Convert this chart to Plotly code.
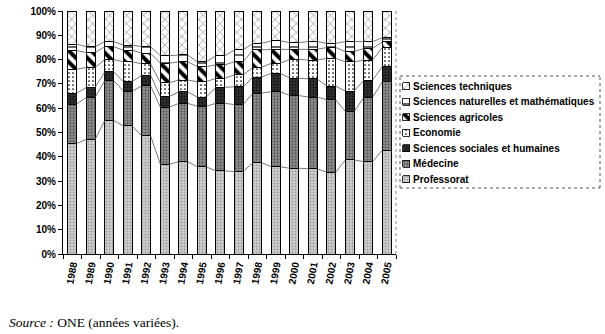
import plotly.graph_objects as go

years = ["1988", "1989", "1990", "1991", "1992", "1993", "1994", "1995", "1996",
         "1997", "1998", "1999", "2000", "2001", "2002", "2003", "2004", "2005"]

professorat = [45.5, 47.2, 55.0, 52.7, 48.6, 36.9, 38.0, 35.9, 34.2, 33.9, 37.6, 35.9, 35.3, 35.1, 33.6, 38.7, 38.0, 42.8]
medecine = [16.2, 17.3, 16.4, 14.3, 20.6, 23.5, 24.0, 24.9, 27.8, 27.6, 28.6, 30.9, 29.9, 29.5, 29.9, 19.9, 26.5, 28.1]
sciences_sociales = [4.4, 4.1, 3.6, 3.9, 4.4, 4.3, 4.8, 3.7, 6.6, 7.3, 6.6, 7.6, 7.1, 7.5, 5.6, 8.4, 7.1, 6.2]
economie = [9.9, 8.2, 5.1, 8.2, 4.6, 5.8, 4.8, 6.4, 3.7, 4.9, 4.0, 4.1, 7.8, 7.7, 11.4, 12.1, 8.2, 7.9]
sciences_agricoles = [7.7, 6.1, 5.2, 4.8, 4.4, 8.0, 7.5, 6.2, 5.5, 5.4, 7.2, 5.7, 4.1, 4.4, 4.5, 4.2, 4.8, 2.3]
sciences_naturelles = [2.7, 2.4, 2.1, 2.1, 2.7, 3.1, 2.8, 2.0, 3.7, 4.9, 2.7, 3.5, 2.8, 3.2, 1.7, 4.1, 2.8, 1.7]
sciences_techniques = [13.6, 14.7, 12.6, 14.0, 14.7, 18.4, 18.1, 20.9, 18.5, 16.0, 13.3, 12.3, 13.0, 12.6, 13.3, 12.6, 12.6, 11.0]

series = [
    ("Professorat", professorat, dict(bg="#d2d2d2", fg="#9a9a9a", shape=".", size=3, sol=0.35)),
    ("Médecine", medecine, dict(bg="#969696", fg="#5a5a5a", shape=".", size=3, sol=0.45)),
    ("Sciences sociales et humaines", sciences_sociales, dict(bg="#333333", fg="#111111", shape=".", size=3, sol=0.4)),
    ("Economie", economie, dict(bg="#ffffff", fg="#000000", shape=".", size=4, sol=0.15)),
    ("Sciences agricoles", sciences_agricoles, dict(bg="#ffffff", fg="#000000", shape="\\", size=8, sol=0.5)),
    ("Sciences naturelles et mathématiques", sciences_naturelles, dict(bg="#ffffff", fg="#000000", shape="-", size=8, sol=0.15)),
    ("Sciences techniques", sciences_techniques, dict(bg="#ffffff", fg="#555555", shape="x", size=6, sol=0.15)),
]

W, H = 605, 334
ML, MR, MT, MB = 63, 5, 11, 80
area_w = W - ML - MR
area_h = H - MT - MB
plot_right = 396
main_dom = (plot_right - ML) / area_w
n = len(years)

def px_x(p):
    return (p - ML) / area_w

def px_y(p):
    return (H - MB - p) / area_h

xs = list(range(n))
bar_w = 0.47

fig = go.Figure()

# connector lines between bars (series lines)
cum = [0.0] * n
for name, vals, st in series[:-1]:
    cum = [c + v for c, v in zip(cum, vals)]
    lx, ly = [], []
    for i in range(n - 1):
        lx += [xs[i] + bar_w / 2, xs[i + 1] - bar_w / 2, None]
        ly += [cum[i], cum[i + 1], None]
    fig.add_trace(go.Scatter(x=lx, y=ly, mode="lines", line=dict(color="#555555", width=0.8),
                             showlegend=False, hoverinfo="skip"))

def pat(st):
    return dict(shape=st["shape"], fgcolor=st["fg"], bgcolor=st["bg"],
                size=st["size"], solidity=st["sol"], fillmode="replace")

for name, vals, st in series:
    fig.add_trace(go.Bar(
        x=xs, y=vals, name=name, width=bar_w, showlegend=False,
        marker=dict(color=st["bg"], line=dict(color="#000000", width=1), pattern=pat(st)),
    ))

# boundary ticks axis
fig.add_trace(go.Scatter(x=[-0.5, n - 0.5], y=[0, 0], mode="markers", marker=dict(opacity=0),
                         xaxis="x2", showlegend=False, hoverinfo="skip"))

# custom legend: swatches on an auxiliary pixel-scaled axis
LX0, LX1, LY0, LY1 = 400, 600, 76, 188
row0, row_step, sw = 86, 15.5, 7
annotations = []
for k, (name, vals, st) in enumerate(reversed(series)):
    yc = row0 + k * row_step
    fig.add_trace(go.Bar(
        x=[sw], y=[yc], base=[LX0 + 2.5], orientation="h", width=sw,
        xaxis="x3", yaxis="y3", showlegend=False, hoverinfo="skip",
        marker=dict(color=st["bg"], line=dict(color="#000000", width=0.8), pattern=pat(st)),
    ))
    annotations.append(dict(xref="paper", yref="paper", x=px_x(LX0 + 10.5), y=px_y(yc),
                            xanchor="left", yanchor="middle",
                            showarrow=False, text=f"<b>{name}</b>",
                            font=dict(family="Liberation Sans, Arial, sans-serif", size=10, color="#000000")))

annotations.append(dict(xref="paper", yref="paper", x=px_x(7), y=px_y(322),
                        xanchor="left", yanchor="middle", showarrow=False, align="left",
                        text="<i>Source :</i> ONE (années variées).",
                        font=dict(family="Liberation Serif, Times New Roman, serif", size=13.5, color="#000000")))

tickfont = dict(family="Liberation Sans, Arial, sans-serif", size=10, color="#000000", weight="bold")

border = dict(color="#555555", width=1, dash="dot")
x0p, x1p, y0p, y1p = px_x(LX0), px_x(LX1), px_y(LY1), px_y(LY0)

fig.update_layout(
    width=W, height=H,
    margin=dict(l=ML, r=MR, t=MT, b=MB, autoexpand=False),
    paper_bgcolor="white", plot_bgcolor="white",
    barmode="stack",
    showlegend=False,
    xaxis=dict(domain=[0, main_dom], range=[-0.5, n - 0.5], tickmode="array", tickvals=xs, ticktext=years,
               tickangle=-80, tickfont=tickfont, ticks="", showgrid=False, zeroline=False,
               showline=True, linecolor="#000000", linewidth=1),
    xaxis2=dict(domain=[0, main_dom], range=[-0.5, n - 0.5], overlaying="x", side="bottom", tickmode="array",
                tickvals=[i - 0.5 for i in range(n + 1)], showticklabels=False,
                ticks="outside", ticklen=4, tickcolor="#000000", showgrid=False, zeroline=False,
                showline=False, anchor="y"),
    yaxis=dict(range=[0, 100], tickmode="array", tickvals=list(range(0, 101, 10)),
               ticktext=[f"{v}%" for v in range(0, 101, 10)], tickfont=tickfont,
               ticks="outside", ticklen=4, tickcolor="#000000", showgrid=False, zeroline=False,
               showline=True, linecolor="#000000", linewidth=1),
    xaxis3=dict(domain=[px_x(LX0), px_x(LX1)], range=[LX0, LX1], visible=False, anchor="y3",
                fixedrange=True, showgrid=False, zeroline=False, showline=False),
    yaxis3=dict(domain=[y0p, y1p], range=[LY1, LY0], visible=False, anchor="x3",
                fixedrange=True, showgrid=False, zeroline=False, showline=False),
    shapes=[
        dict(type="line", xref="paper", yref="paper", x0=main_dom, x1=main_dom, y0=0, y1=1,
             line=dict(color="#888888", width=1, dash="dot")),
        dict(type="line", xref="paper", yref="paper", x0=x0p, x1=x1p, y0=y0p, y1=y0p, line=border),
        dict(type="line", xref="paper", yref="paper", x0=x0p, x1=x1p, y0=y1p, y1=y1p, line=border),
        dict(type="line", xref="paper", yref="paper", x0=x0p, x1=x0p, y0=y0p, y1=y1p, line=border),
        dict(type="line", xref="paper", yref="paper", x0=x1p, x1=x1p, y0=y0p, y1=y1p, line=border),
    ],
    annotations=annotations,
)

fig.write_html("out.html")
